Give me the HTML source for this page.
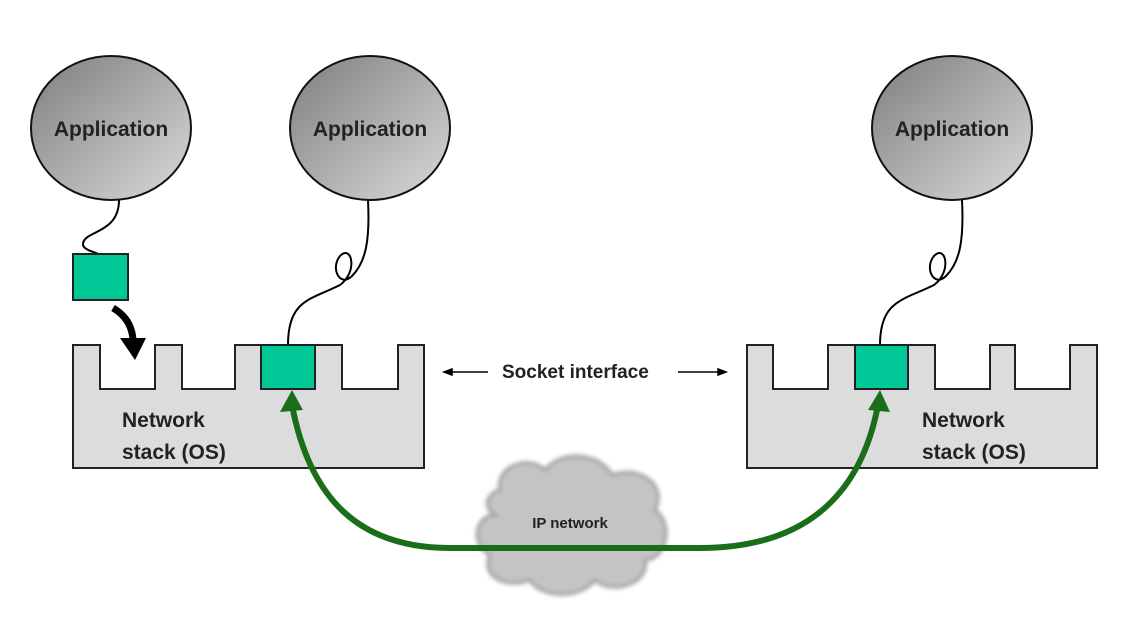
<!DOCTYPE html>
<html><head><style>body{margin:0;background:#fff}</style></head><body>
<svg width="1146" height="636" viewBox="0 0 1146 636" xmlns="http://www.w3.org/2000/svg" font-family="Liberation Sans, sans-serif" font-weight="bold">
<defs>
<linearGradient id="g" x1="0" y1="0" x2="1" y2="1"><stop offset="0" stop-color="#7e7e7e"/><stop offset="1" stop-color="#dadada"/></linearGradient>
<filter id="b"><feGaussianBlur stdDeviation="2"/></filter>
</defs>
<g stroke="#111" stroke-width="2" fill="url(#g)">
<ellipse cx="111" cy="128" rx="80" ry="72"/>
<ellipse cx="370" cy="128" rx="80" ry="72"/>
<ellipse cx="952" cy="128" rx="80" ry="72"/>
</g>
<g font-size="21" text-anchor="middle" fill="#222">
<text x="111" y="136">Application</text>
<text x="370" y="136">Application</text>
<text x="952" y="136">Application</text>
</g>
<g fill="none" stroke="#000" stroke-width="2">
<path d="M119 200 C119 235 82 230 83 245 C84 250 95 252 98 254"/>
<path d="M368 200 C370 240 366 262 352 276 C340 288 330 268 340 256 C352 244 358 272 340 285 C310 300 288 300 288 345"/>
<path d="M962 200 C964 240 960 262 946 276 C934 288 924 268 934 256 C946 244 952 272 934 285 C904 300 880 300 880 345"/>
</g>
<path d="M73 345 H100 V389 H155 V345 H182 V389 H235 V345 H342 V389 H398 V345 H424 V468 H73 Z" fill="#dcdcdc" stroke="#222" stroke-width="2"/>
<path d="M747 345 H773 V389 H828 V345 H935 V389 H990 V345 H1015 V389 H1070 V345 H1097 V468 H747 Z" fill="#dcdcdc" stroke="#222" stroke-width="2"/>
<g fill="#00c896" stroke="#222" stroke-width="2">
<rect x="73" y="254" width="55" height="46"/>
<rect x="261" y="345" width="54" height="44"/>
<rect x="855" y="345" width="53" height="44"/>
</g>
<path d="M113 308 C125 315 132 325 133 340" fill="none" stroke="#000" stroke-width="7"/>
<path d="M120 338 L146 338 L135 360 Z" fill="#000"/>
<g font-size="21" fill="#222">
<text x="122" y="427">Network</text><text x="122" y="459">stack (OS)</text>
<text x="922" y="427">Network</text><text x="922" y="459">stack (OS)</text>
<text x="502" y="378" font-size="19">Socket interface</text>
</g>
<g stroke="#000" stroke-width="1.5" fill="#000">
<line x1="450" y1="372" x2="488" y2="372"/><path d="M444 372 l8 -3 v6z"/>
<line x1="678" y1="372" x2="720" y2="372"/><path d="M726 372 l-8 -3 v6z"/>
</g>
<g filter="url(#b)">
<path d="M500 490 C495 465 530 455 545 470 C560 450 600 452 612 475 C640 465 668 485 655 510 C675 525 665 560 645 560 C650 585 610 595 595 580 C580 600 540 598 530 580 C505 590 480 575 490 555 C470 545 475 515 495 515 C480 505 490 492 500 490 Z" fill="#c4c4c4" stroke="#9a9a9a" stroke-width="3"/>
</g>
<text x="570" y="528" font-size="15" text-anchor="middle" fill="#222">IP network</text>
<g fill="none" stroke="#1a6e1a" stroke-width="6">
<path d="M292 405 C310 500 360 548 450 548 H700 C800 548 860 500 878 405"/>
</g>
<g fill="#1a6e1a">
<path d="M280 412 L292 390 L303 410 Z"/>
<path d="M868 410 L880 390 L890 412 Z"/>
</g>
</svg>
</body></html>
